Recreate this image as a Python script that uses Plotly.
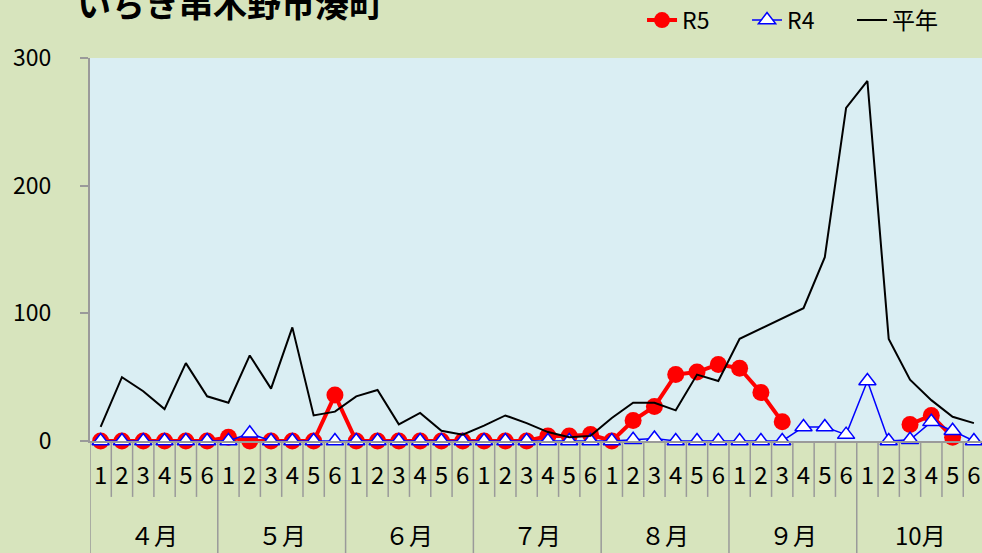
import plotly.graph_objects as go

months = ["４月", "５月", "６月", "７月", "８月", "９月", "10月"]
days = ["1", "2", "3", "4", "5", "6"]

r5 = [0, 0, 0, 0, 0, 0,
      3, 0, 0, 0, 0, 36,
      0, 0, 0, 0, 0, 0,
      0, 0, 0, 4, 4, 5,
      0, 16, 27, 52, 54, 60,
      57, 38, 15, None, None, None,
      None, None, 13, 20, 3, None]

r4 = [0, 0, 0, 0, 0, 0,
      0, 6, 0, 0, 0, 0,
      0, 0, 0, 0, 0, 0,
      0, 0, 0, 0, 0, 0,
      0, 1, 2, 0, 0, 0,
      0, 0, 0, 11, 11, 5,
      47, 0, 1, 15, 8, 0]

heinen = [11, 50, 39, 25, 61, 35,
          30, 67, 41, 89, 20, 23,
          35, 40, 13, 22, 8, 5,
          12, 20, 14, 7, 3, 4,
          18, 30, 30, 24, 52, 47,
          80, 88, 96, 104, 144, 261,
          282, 80, 48, 32, 19, 14]

n = len(heinen)
xs = list(range(n))
day_labels = [days[i % 6] for i in xs]

FONT = "Noto Sans CJK JP"
GREY = "#9a9a9a"

fig = go.Figure()
fig.add_trace(go.Scatter(
    x=xs, y=r5, name="R5", mode="lines+markers",
    line=dict(color="#ff0000", width=4),
    marker=dict(symbol="circle", size=17, color="#ff0000"),
    cliponaxis=False,
))
fig.add_trace(go.Scatter(
    x=xs, y=r4, name="R4", mode="lines+markers",
    line=dict(color="#0000ff", width=1.5),
    marker=dict(symbol="triangle-up", size=15, color="white",
                line=dict(color="#0000ff", width=1.5)),
    cliponaxis=False,
))
fig.add_trace(go.Scatter(
    x=xs, y=heinen, name="平年", mode="lines",
    line=dict(color="black", width=2),
    cliponaxis=False,
))

# category tick lines under the axis
shapes = []
for i in range(n + 1):
    b = i - 0.5
    y1 = -0.30 if i % 6 == 0 else -0.146
    shapes.append(dict(type="line", xref="x", yref="paper",
                       x0=b, x1=b, y0=0, y1=y1,
                       line=dict(color=GREY, width=1.5), layer="below"))

annotations = []
for m, name in enumerate(months):
    annotations.append(dict(x=m * 6 + 2.5, y=-0.245, xref="x", yref="paper",
                            text=name, showarrow=False,
                            font=dict(size=24, color="black", family=FONT),
                            xanchor="center", yanchor="middle"))
annotations.append(dict(x=-15 / 892, y=1.144, xref="paper", yref="paper",
                        text="<b>いちき串木野市湊町</b>", showarrow=False,
                        font=dict(size=34, color="black", family=FONT),
                        xanchor="left", yanchor="middle"))

fig.update_layout(
    width=982, height=553,
    margin=dict(l=90, r=0, t=58, b=112, autoexpand=False),
    paper_bgcolor="#d7e4bd",
    plot_bgcolor="#daeef3",
    font=dict(family=FONT, color="black"),
    legend=dict(orientation="h", x=0.972, xanchor="right", y=1.099,
                yanchor="middle", font=dict(size=23), bgcolor="rgba(0,0,0,0)",
                traceorder="normal", entrywidth=60),
    shapes=shapes,
    annotations=annotations,
    showlegend=True,
)
fig.update_xaxes(
    range=[-0.5, 41.38], tickvals=xs, ticktext=day_labels, automargin=False,
    showgrid=False, zeroline=False, showline=True, linecolor=GREY, linewidth=2,
    ticks="", tickfont=dict(size=24), ticklabelstandoff=12,
)
fig.update_yaxes(
    range=[0, 300], tickvals=[0, 100, 200, 300], automargin=False,
    showgrid=False, zeroline=False, showline=True, linecolor=GREY, linewidth=2,
    ticks="outside", ticklen=8, tickcolor=GREY, tickwidth=2,
    tickfont=dict(size=23), ticklabelstandoff=24,
)

fig.write_html("out.html", config={"displayModeBar": False},
               post_script="document.body.style.margin='0';")
